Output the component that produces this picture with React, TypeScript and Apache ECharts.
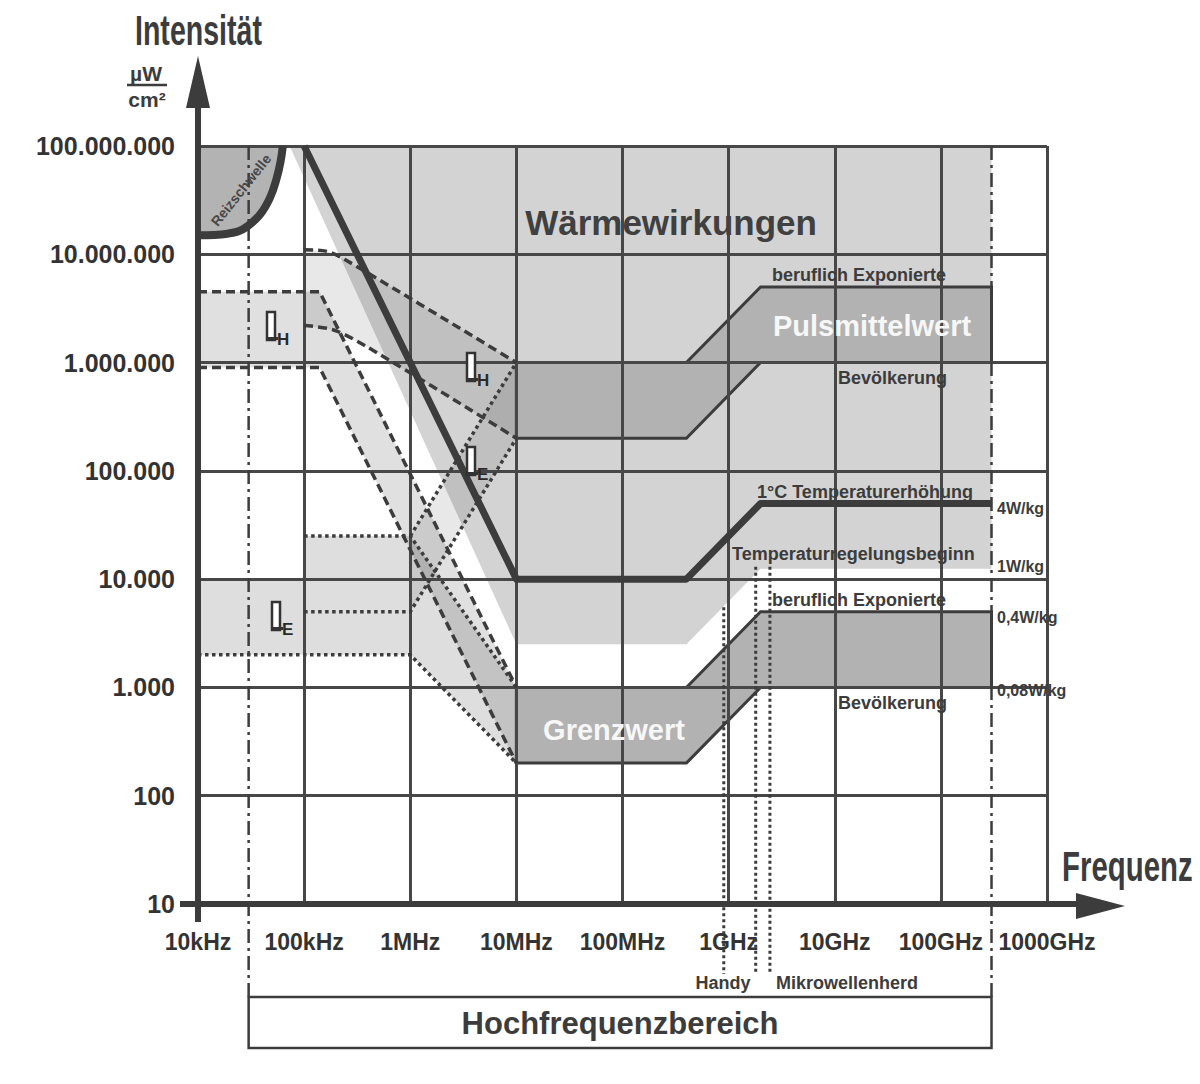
import React, { useEffect, useRef } from 'react';
import * as echarts from 'echarts';

type P = [number, number];

// ---- axis tick labels ----
const xTickLabels = ['10kHz', '100kHz', '1MHz', '10MHz', '100MHz', '1GHz', '10GHz', '100GHz', '1000GHz'];
const yTickLabels = ['10', '100', '1.000', '10.000', '100.000', '1.000.000', '10.000.000', '100.000.000'];

// ---- data: frequency [Hz], intensity [µW/cm²] ----
const reizschwelle: P[] = [[1e4, 1.5e7], [1.9e4, 1.55e7], [2.65e4, 1.7e7], [3.8e4, 2.3e7], [4.75e4, 3.3e7], [5.5e4, 5e7], [6e4, 7.2e7], [6.3e4, 1e8]];
const thermal4Wkg: P[] = [[1e5, 1e8], [1e7, 1e4], [4e8, 1e4], [2e9, 5e4], [3e11, 5e4]];
const thermal1Wkg: P[] = [[7.3e4, 1e8], [1e7, 2.5e3], [4e8, 2.5e3], [2e9, 1.25e4], [3e11, 1.25e4]];
const pulsOcc: P[] = [[1e7, 1e6], [4e8, 1e6], [2e9, 5e6], [3e11, 5e6]];
const pulsPop: P[] = [[1e7, 2e5], [4e8, 2e5], [2e9, 1e6], [3e11, 1e6]];
const grenzOcc: P[] = [[1e7, 1e3], [4e8, 1e3], [2e9, 5e3], [3e11, 5e3]];
const grenzPop: P[] = [[1e7, 200], [4e8, 200], [2e9, 1e3], [3e11, 1e3]];
const hOcc: P[] = [[1e4, 4.5e6], [1.4e5, 4.5e6], [1e7, 1e3]];
const hPop: P[] = [[1e4, 9e5], [1.4e5, 9e5], [1e7, 200]];
const hPulsOcc: P[] = [[1e5, 1.1e7], [1.6e5, 1.07e7], [2.4e5, 9e6], [1e7, 1e6]];
const hPulsPop: P[] = [[1e5, 2.2e6], [1.9e5, 2e6], [3.9e5, 1.4e6], [1e7, 2e5]];
const eOcc: P[] = [[1e5, 2.5e4], [1e6, 2.5e4], [1e7, 1e3]];
const ePop: P[] = [[1e4, 2e3], [1e6, 2e3], [1e7, 200]];
const ePulsOcc: P[] = [[1e6, 2.5e4], [1e7, 1e6]];
const ePulsPop: P[] = [[1e5, 5e3], [1e6, 5e3], [1e7, 2e5]];
const eZoneLeft: P[] = [[1e4, 1e4], [1e5, 1e4]];
const hfRange: P = [3e4, 3e11];
const deviceFreqs = [9e8, 1.8e9, 2.45e9];
const deviceTops = [5.5e3, 1.3e4, 1.3e4];

const INK = '#3c3c3c';
const FONT = '"Liberation Sans", Arial, sans-serif';

const fills = [
  { points: [...thermal1Wkg, [3e11, 1e8] as P], color: '#d3d3d3' },
  { points: [[1e4, 1e8] as P, ...reizschwelle], color: '#b3b3b3' },
  { points: [...hOcc, ...[...hPop].reverse()], color: 'rgba(0,0,0,0.12)' },
  { points: [...eZoneLeft, ...eOcc, ...[...ePop].reverse()], color: 'rgba(0,0,0,0.13)' },
  { points: [...hPulsOcc, ...[...hPulsPop].reverse()], color: 'rgba(0,0,0,0.09)' },
  { points: [...ePulsOcc, ...[...ePulsPop.slice(1)].reverse()], color: 'rgba(0,0,0,0.09)' },
  { points: [...pulsOcc, ...[...pulsPop].reverse()], color: '#b2b2b2', stroke: INK },
  { points: [...grenzOcc, ...[...grenzPop].reverse()], color: '#b2b2b2', stroke: INK },
];

function lineSeries(data: P[], width: number, type: any, smooth: any = false) {
  return {
    type: 'line', data, showSymbol: false, symbol: 'none', smooth, silent: true, z: 5, clip: false,
    lineStyle: { color: INK, width, type, cap: 'butt', join: 'round' },
  };
}

const DASH = [9, 5];
const DOT = [3.5, 3.5];

function txt(x: number, y: number, text: string, size: number, o: any = {}) {
  return {
    type: 'text', x, y, z: 100, silent: true,
    rotation: o.rotation || 0, scaleX: o.scaleX || 1,
    style: {
      text, font: `bold ${size}px ${FONT}`, fill: o.fill || INK,
      align: o.align || 'left', verticalAlign: 'middle',
    },
  };
}

// outlined "I" with subscript letter (field-strength symbol)
function glyph(x: number, y: number, sub: string) {
  return [
    { type: 'rect', z: 100, silent: true, shape: { x: x - 4, y: y - 15, width: 8, height: 28 }, style: { fill: '#ffffff', stroke: '#333', lineWidth: 2.5 } },
    { type: 'rect', z: 100, silent: true, shape: { x: x - 4, y: y + 10, width: 11, height: 3 }, style: { fill: '#333' } },
    txt(x + 6, y + 12, sub, 17, { fill: '#2a2a2a' }),
  ];
}

export default function App() {
  const ref = useRef<HTMLDivElement>(null);
  useEffect(() => {
    const chart = echarts.init(ref.current!, null, { renderer: 'svg' });
    const axisLabelBase = { fontWeight: 'bold', fontFamily: FONT, color: '#333', showMinLabel: true, showMaxLabel: true };
    const option: any = {
      animation: false,
      backgroundColor: '#ffffff',
      grid: { left: 198, top: 146, right: 153, bottom: 180, containLabel: false },
      xAxis: {
        type: 'log', logBase: 10, min: 1e4, max: 1e12, splitNumber: 8, z: 3,
        axisLine: { show: true, lineStyle: { color: INK, width: 6 } },
        axisTick: { show: false },
        splitLine: { show: true, lineStyle: { color: '#474747', width: 3 } },
        axisLabel: { ...axisLabelBase, fontSize: 23, margin: 26, formatter: (v: number) => xTickLabels[Math.round(Math.log10(v)) - 4] ?? '' },
      },
      yAxis: {
        type: 'log', logBase: 10, min: 10, max: 1e8, splitNumber: 7, z: 3,
        axisLine: { show: true, lineStyle: { color: INK, width: 6 } },
        axisTick: { show: false },
        splitLine: { show: true, lineStyle: { color: '#474747', width: 3 } },
        axisLabel: { ...axisLabelBase, fontSize: 25, margin: 23, formatter: (v: number) => yTickLabels[Math.round(Math.log10(v)) - 1] ?? '' },
      },
      series: [
        {
          type: 'custom', coordinateSystem: 'cartesian2d', z: 1, silent: true, clip: false,
          data: fills.map((f) => f.points[0]),
          renderItem: (params: any, api: any) => {
            const f: any = fills[params.dataIndex];
            return {
              type: 'polygon',
              shape: { points: f.points.map((p: P) => api.coord(p)) },
              style: { fill: f.color, stroke: f.stroke || null, lineWidth: f.stroke ? 3 : 0 },
            };
          },
        },
        lineSeries(reizschwelle, 8, 'solid', 0.4),
        lineSeries(thermal4Wkg, 7, 'solid'),
        lineSeries(hOcc, 3.5, DASH),
        lineSeries(hPop, 3.5, DASH),
        lineSeries(hPulsOcc, 3.5, DASH, 0.3),
        lineSeries(hPulsPop, 3.5, DASH, 0.3),
        lineSeries(eOcc, 3.5, DOT),
        lineSeries(ePop, 3.5, DOT),
        lineSeries(ePulsOcc, 3.5, DOT),
        lineSeries(ePulsPop, 3.5, DOT),
        {
          type: 'custom', coordinateSystem: 'cartesian2d', z: 6, silent: true, clip: false,
          data: [[hfRange[0], 1e8]],
          renderItem: (params: any, api: any) => {
            const top = api.coord([hfRange[0], 1e8])[1];
            const axisY = api.coord([hfRange[0], 10])[1];
            const xL = api.coord([hfRange[0], 10])[0];
            const xR = api.coord([hfRange[1], 10])[0];
            const boxTop = axisY + 93;
            const boxBottom = axisY + 144;
            const dd = { stroke: INK, lineWidth: 2.5, lineDash: [14, 5, 3, 5], fill: null };
            const children: any[] = [
              { type: 'line', shape: { x1: xL, y1: top, x2: xL, y2: boxTop }, style: dd },
              { type: 'line', shape: { x1: xR, y1: top, x2: xR, y2: boxTop }, style: dd },
              { type: 'rect', shape: { x: xL, y: boxTop, width: xR - xL, height: boxBottom - boxTop }, style: { fill: '#fff', stroke: INK, lineWidth: 2.5 } },
              { type: 'text', x: (xL + xR) / 2, y: (boxTop + boxBottom) / 2 + 1, style: { text: 'Hochfrequenzbereich', font: `bold 31px ${FONT}`, fill: INK, align: 'center', verticalAlign: 'middle' } },
            ];
            deviceFreqs.forEach((f, i) => {
              const p = api.coord([f, deviceTops[i]]);
              children.push({ type: 'line', shape: { x1: p[0], y1: p[1], x2: p[0], y2: axisY + 70 }, style: { stroke: INK, lineWidth: 3, lineDash: [3, 3], fill: null } });
            });
            return { type: 'group', children };
          },
        },
      ],
      graphic: [
        // axis extensions and arrowheads
        { type: 'line', z: 100, shape: { x1: 198, y1: 150, x2: 198, y2: 104 }, style: { stroke: INK, lineWidth: 6 } },
        { type: 'polygon', z: 100, shape: { points: [[198, 56], [186, 108], [210, 108]] }, style: { fill: INK } },
        { type: 'line', z: 100, shape: { x1: 198, y1: 900, x2: 198, y2: 922 }, style: { stroke: INK, lineWidth: 6 } },
        { type: 'line', z: 100, shape: { x1: 180, y1: 904, x2: 200, y2: 904 }, style: { stroke: INK, lineWidth: 6 } },
        { type: 'line', z: 100, shape: { x1: 1044, y1: 904, x2: 1080, y2: 904 }, style: { stroke: INK, lineWidth: 6 } },
        { type: 'polygon', z: 100, shape: { points: [[1125, 906], [1076, 893], [1076, 919]] }, style: { fill: INK } },
        // titles
        txt(135, 30, 'Intensität', 42, { scaleX: 0.68 }),
        txt(146, 73, 'µW', 21, { align: 'center' }),
        { type: 'line', z: 100, shape: { x1: 127, y1: 85, x2: 167, y2: 85 }, style: { stroke: INK, lineWidth: 2.5 } },
        txt(147, 99, 'cm²', 21, { align: 'center' }),
        txt(1062, 867, 'Frequenz', 42, { scaleX: 0.70 }),
        // annotations
        txt(671, 222, 'Wärmewirkungen', 35, { align: 'center', fill: '#404040' }),
        txt(772, 275, 'beruflich Exponierte', 18),
        txt(872, 326, 'Pulsmittelwert', 29, { align: 'center', fill: '#f7f7f7' }),
        txt(838, 378, 'Bevölkerung', 18),
        txt(757, 492, '1°C Temperaturerhöhung', 18),
        txt(732, 554, 'Temperaturregelungsbeginn', 18),
        txt(772, 600, 'beruflich Exponierte', 18),
        txt(838, 703, 'Bevölkerung', 18),
        txt(614, 730, 'Grenzwert', 29, { align: 'center', fill: '#f7f7f7' }),
        txt(997, 508, '4W/kg', 16),
        txt(997, 566, '1W/kg', 16),
        txt(997, 617, '0,4W/kg', 16),
        txt(997, 690, '0,08W/kg', 16),
        txt(723, 983, 'Handy', 18, { align: 'center' }),
        txt(776, 983, 'Mikrowellenherd', 18),
        txt(241, 190, 'Reizschwelle', 14, { align: 'center', rotation: 0.9, fill: '#474747' }),
        ...glyph(271, 327, 'H'),
        ...glyph(471, 368, 'H'),
        ...glyph(471, 462, 'E'),
        ...glyph(276, 617, 'E'),
      ],
    };
    chart.setOption(option);
    return () => chart.dispose();
  }, []);
  return <div ref={ref} style={{ position: 'fixed', left: 0, top: 0, width: 1200, height: 1084, background: '#fff' }} />;
}
